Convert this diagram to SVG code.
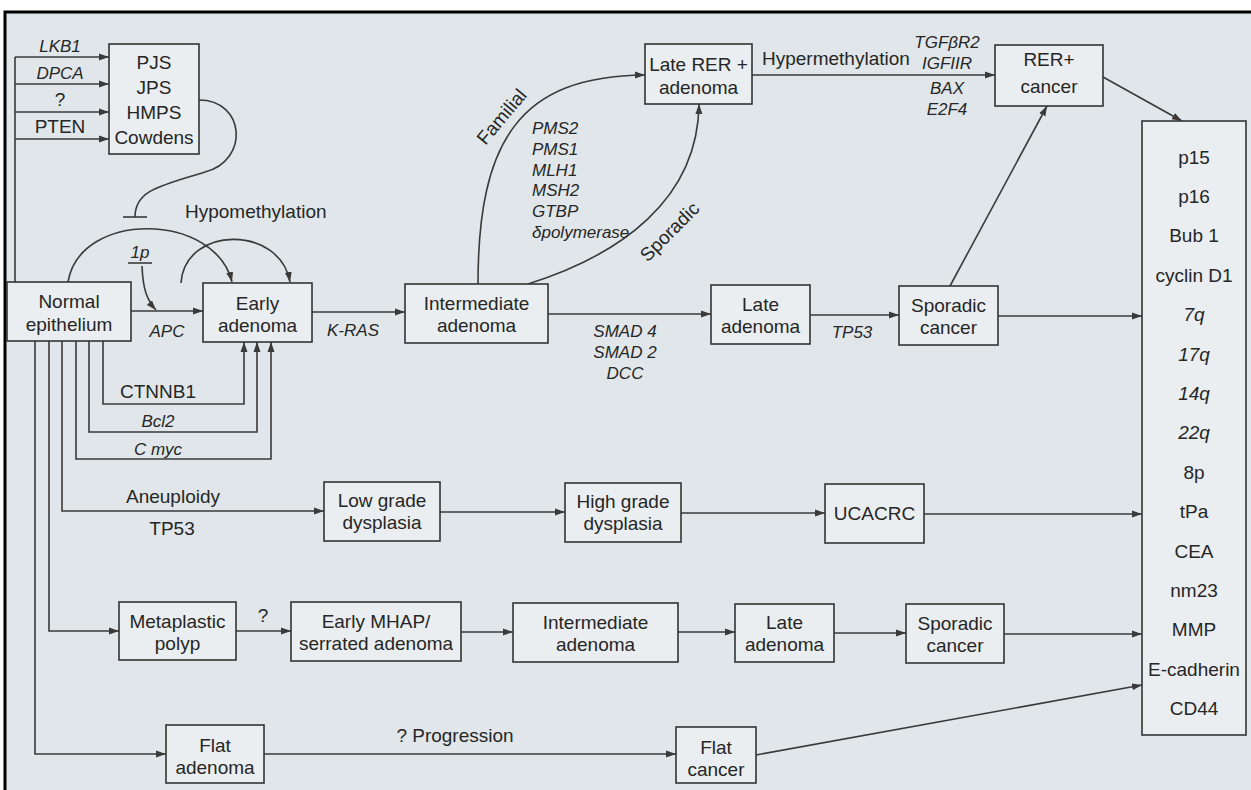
<svg xmlns="http://www.w3.org/2000/svg" width="1251" height="790" viewBox="0 0 1251 790">
<defs>
<style>
text{font-family:"Liberation Sans",Arial,sans-serif;font-size:19px;fill:#262626;text-anchor:middle}
.i{font-style:italic;font-size:17px}
.s{text-anchor:start}
.n rect{fill:#eaeef0;stroke:#333;stroke-width:1.6}
.c path{fill:none;stroke:#3a3a3a;stroke-width:1.6}
.ar{marker-end:url(#a)}
</style>
<marker id="a" viewBox="0 0 10 8" refX="10" refY="4" markerWidth="10" markerHeight="8" markerUnits="userSpaceOnUse" orient="auto"><path d="M0,0.5 L10,4 L0,7.5 z" fill="#3a3a3a"/></marker>
</defs>
<rect x="0" y="0" width="1251" height="790" fill="#ffffff"/>
<rect x="5" y="12" width="1246" height="778" fill="#e0e6e9"/>
<path d="M5,790 V12 H1251" fill="none" stroke="#000" stroke-width="3"/>

<g id="connectors" class="c">
<path d="M15,282 V57"/>
<path class="ar" d="M15,57 H109"/>
<path class="ar" d="M15,84 H109"/>
<path class="ar" d="M15,112 H109"/>
<path class="ar" d="M15,139 H109"/>
<path d="M199,100 C245,100 250,160 205,172 C160,186 135,190 135,217"/>
<path d="M123,217 H147"/>
<path class="ar" d="M68,282 C80,210 215,212 232,282"/>
<path class="ar" d="M181,283 C185,225 280,225 290,282"/>
<path d="M128,263 H152"/>
<path class="ar" d="M142,266 C143,290 147,300 156,310"/>
<path class="ar" d="M131,311 H203"/>
<path class="ar" d="M312,312 H405"/>
<path class="ar" d="M548,314 H711"/>
<path class="ar" d="M810,315 H899"/>
<path class="ar" d="M998,316 H1142"/>
<path class="ar" d="M103,341 V404 H244 V342"/>
<path class="ar" d="M89,341 V432 H257 V342"/>
<path class="ar" d="M76,341 V459 H271 V342"/>
<path class="ar" d="M62,341 V511 H324"/>
<path class="ar" d="M49,341 V631 H119"/>
<path class="ar" d="M35,341 V754 H166"/>
<path class="ar" d="M440,512 H565"/>
<path class="ar" d="M681,513 H825"/>
<path class="ar" d="M924,514 H1142"/>
<path class="ar" d="M236,631 H291"/>
<path class="ar" d="M461,632 H513"/>
<path class="ar" d="M678,632 H735"/>
<path class="ar" d="M834,633 H906"/>
<path class="ar" d="M1004,634 H1142"/>
<path class="ar" d="M264,754 H676"/>
<path class="ar" d="M756,755 L1142,685"/>
<path class="ar" d="M478,284 C478,140 520,76 645,75"/>
<path class="ar" d="M528,284 C620,255 698,200 699,104"/>
<path class="ar" d="M752,75 H995"/>
<path class="ar" d="M950,286 L1047,106"/>
<path class="ar" d="M1103,77 L1182,121"/>
</g>

<g id="labels">
<text class="i" x="60" y="52">LKB1</text>
<text class="i" x="60" y="79">DPCA</text>
<text x="60" y="106">?</text>
<text x="60" y="133">PTEN</text>
<text class="s" x="185" y="218">Hypomethylation</text>
<text class="i" x="140" y="258">1p</text>
<text class="i" x="167" y="337">APC</text>
<text class="i" x="353" y="336">K-RAS</text>
<text x="158" y="398">CTNNB1</text>
<text class="i" x="158" y="427">Bcl2</text>
<text class="i" x="158" y="455">C myc</text>
<text class="i" x="625" y="337">SMAD 4</text>
<text class="i" x="625" y="358">SMAD 2</text>
<text class="i" x="625" y="379">DCC</text>
<text class="i" x="852" y="338">TP53</text>
<text x="173" y="503">Aneuploidy</text>
<text x="172" y="535">TP53</text>
<text x="263" y="622">?</text>
<text x="455" y="742">? Progression</text>
<text x="0" y="6" transform="translate(502,117) rotate(-50)">Familial</text>
<text x="0" y="6" transform="translate(670,232) rotate(-45)">Sporadic</text>
<text class="i s" x="532" y="134">PMS2</text>
<text class="i s" x="532" y="155">PMS1</text>
<text class="i s" x="532" y="176">MLH1</text>
<text class="i s" x="532" y="196">MSH2</text>
<text class="i s" x="532" y="217">GTBP</text>
<text class="i s" x="532" y="238">δpolymerase</text>
<text class="s" x="762" y="65">Hypermethylation</text>
<text class="i" x="947" y="48">TGFβR2</text>
<text class="i" x="947" y="69">IGFIIR</text>
<text class="i" x="947" y="94">BAX</text>
<text class="i" x="947" y="115">E2F4</text>
</g>

<g id="pjs" class="n"><rect x="109" y="44" width="90" height="110"/>
<text x="154" y="69">PJS</text><text x="154" y="94">JPS</text><text x="154" y="119">HMPS</text><text x="154" y="144">Cowdens</text></g>
<g id="normal" class="n"><rect x="7" y="282" width="124" height="59"/>
<text x="69" y="308">Normal</text><text x="69" y="331">epithelium</text></g>
<g id="early" class="n"><rect x="203" y="283" width="109" height="59"/>
<text x="257.5" y="310">Early</text><text x="257.5" y="332">adenoma</text></g>
<g id="inter" class="n"><rect x="405" y="284" width="143" height="59"/>
<text x="476.5" y="310">Intermediate</text><text x="476.5" y="332">adenoma</text></g>
<g id="late" class="n"><rect x="711" y="285" width="99" height="59"/>
<text x="760.5" y="311">Late</text><text x="760.5" y="333">adenoma</text></g>
<g id="spor" class="n"><rect x="899" y="286" width="99" height="59"/>
<text x="948.5" y="312">Sporadic</text><text x="948.5" y="334">cancer</text></g>
<g id="lateRER" class="n"><rect x="645" y="44" width="107" height="60"/>
<text x="698.5" y="71">Late RER +</text><text x="698.5" y="94">adenoma</text></g>
<g id="rerCancer" class="n"><rect x="995" y="45" width="108" height="61"/>
<text x="1049" y="66">RER+</text><text x="1049" y="93">cancer</text></g>
<g id="markers" class="n"><rect x="1142" y="121" width="104" height="614"/>
<text x="1194" y="163.5">p15</text>
<text x="1194" y="202.9">p16</text>
<text x="1194" y="242.3">Bub 1</text>
<text x="1194" y="281.7">cyclin D1</text>
<text class="i" x="1194" y="321.1" style="font-size:19px">7q</text>
<text class="i" x="1194" y="360.5" style="font-size:19px">17q</text>
<text class="i" x="1194" y="399.9" style="font-size:19px">14q</text>
<text class="i" x="1194" y="439.3" style="font-size:19px">22q</text>
<text x="1194" y="478.7">8p</text>
<text x="1194" y="518.1">tPa</text>
<text x="1194" y="557.5">CEA</text>
<text x="1194" y="596.9">nm23</text>
<text x="1194" y="636.3">MMP</text>
<text x="1194" y="675.7">E-cadherin</text>
<text x="1194" y="715.1">CD44</text></g>
<g id="lowgrade" class="n"><rect x="324" y="482" width="116" height="59"/>
<text x="382" y="507">Low grade</text><text x="382" y="529">dysplasia</text></g>
<g id="highgrade" class="n"><rect x="565" y="483" width="116" height="59"/>
<text x="623" y="508">High grade</text><text x="623" y="530">dysplasia</text></g>
<g id="ucacrc" class="n"><rect x="825" y="484" width="99" height="59"/>
<text x="874.5" y="520">UCACRC</text></g>
<g id="metaplastic" class="n"><rect x="119" y="602" width="117" height="58"/>
<text x="177.5" y="628">Metaplastic</text><text x="177.5" y="650">polyp</text></g>
<g id="mhap" class="n"><rect x="291" y="602" width="170" height="59"/>
<text x="376" y="628">Early MHAP/</text><text x="376" y="650">serrated adenoma</text></g>
<g id="inter2" class="n"><rect x="513" y="603" width="165" height="59"/>
<text x="595.5" y="629">Intermediate</text><text x="595.5" y="651">adenoma</text></g>
<g id="late2" class="n"><rect x="735" y="604" width="99" height="58"/>
<text x="784.5" y="629">Late</text><text x="784.5" y="651">adenoma</text></g>
<g id="spor2" class="n"><rect x="906" y="604" width="98" height="59"/>
<text x="955" y="630">Sporadic</text><text x="955" y="652">cancer</text></g>
<g id="flatAd" class="n"><rect x="166" y="725" width="98" height="58"/>
<text x="215" y="752">Flat</text><text x="215" y="774">adenoma</text></g>
<g id="flatCa" class="n"><rect x="676" y="727" width="80" height="56"/>
<text x="716" y="754">Flat</text><text x="716" y="776">cancer</text></g>
</svg>
